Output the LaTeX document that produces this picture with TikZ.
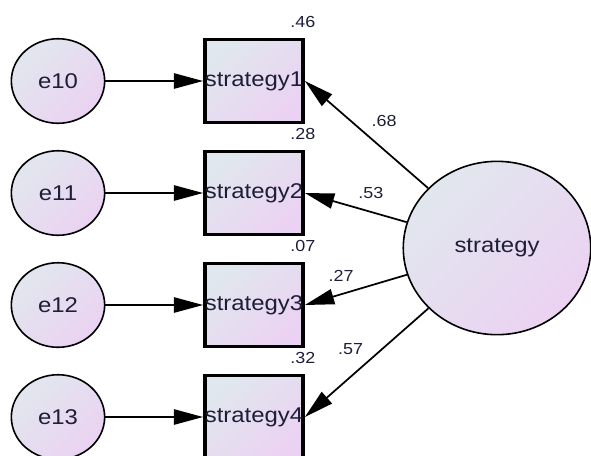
\documentclass[tikz,border=0pt]{standalone}
\usepackage{fontspec}
\setmainfont{Liberation Sans}[FakeStretch=1.12]
\usetikzlibrary{positioning, arrows.meta, shapes.geometric}
\definecolor{fillA}{RGB}{225,231,238}
\definecolor{fillB}{RGB}{235,210,242}
\definecolor{txt}{RGB}{30,30,55}
\tikzset{>={Triangle[length=22pt,width=11.5pt]}}

\begin{document}
\begin{tikzpicture}[x=0.75pt,y=-0.75pt,node distance=84pt,on grid,
    shadefill/.style={top color=fillA,bottom color=fillB,shading angle=45},
    err/.style={ellipse,draw,line width=1.2pt,minimum width=70pt,minimum height=63.4pt,inner sep=0pt,shadefill,font=\fontsize{16}{18}\selectfont,text=txt},
    obs/.style={rectangle,draw,line width=2.6pt,minimum width=70.1pt,minimum height=61.9pt,inner sep=0pt,shadefill,font=\fontsize{16}{18}\selectfont,text=txt},
    lat/.style={ellipse,draw,line width=1.2pt,minimum width=140.6pt,minimum height=130pt,inner sep=0pt,shadefill,font=\fontsize{16}{18}\selectfont,text=txt},
    coef/.style={font=\fontsize{12}{14}\selectfont,text=txt,inner sep=1pt},
    reg/.style={->,line width=1.3pt}]
    \useasboundingbox (0,0) rectangle (591,455);

    % error terms
    \node[err] (e10) at (58,81) {e10};
    \node[err] (e11) [below=of e10] {e11};
    \node[err] (e12) [below=of e11] {e12};
    \node[err] (e13) [below=of e12] {e13};

    % indicators
    \node[obs] (s1) [right=147pt of e10] {strategy1};
    \node[obs] (s2) [right=147pt of e11] {strategy2};
    \node[obs] (s3) [right=147pt of e12] {strategy3};
    \node[obs] (s4) [right=147pt of e13] {strategy4};

    % latent factor
    \node[lat] (st) at (497,248) {strategy};

    % squared multiple correlations
    \node[coef] (r1) at ([shift={(-2,-16)}]s1.north east) {.46};
    \node[coef] (r2) at ([shift={(-2,-16)}]s2.north east) {.28};
    \node[coef] (r3) at ([shift={(-2,-16)}]s3.north east) {.07};
    \node[coef] (r4) at ([shift={(-2,-16)}]s4.north east) {.32};

    \draw[reg] (e10) -- (s1);
    \draw[reg] (e11) -- (s2);
    \draw[reg] (e12) -- (s3);
    \draw[reg] (e13) -- (s4);

    \draw[reg] (st) -- node[coef,pos=0.47,xshift=10.4pt,yshift=12.4pt] {.68} (s1.east);
    \draw[reg] (st) -- node[coef,pos=0.40,xshift=3.6pt,yshift=13pt] {.53} (s2.east);
    \draw[reg] (st) -- node[coef,pos=0.60,xshift=-3.4pt,yshift=12.6pt] {.27} (s3.east);
    \draw[reg] (st) -- node[coef,pos=0.52,xshift=-10.2pt,yshift=12.1pt] {.57} (s4.east);
\end{tikzpicture}
\end{document}
